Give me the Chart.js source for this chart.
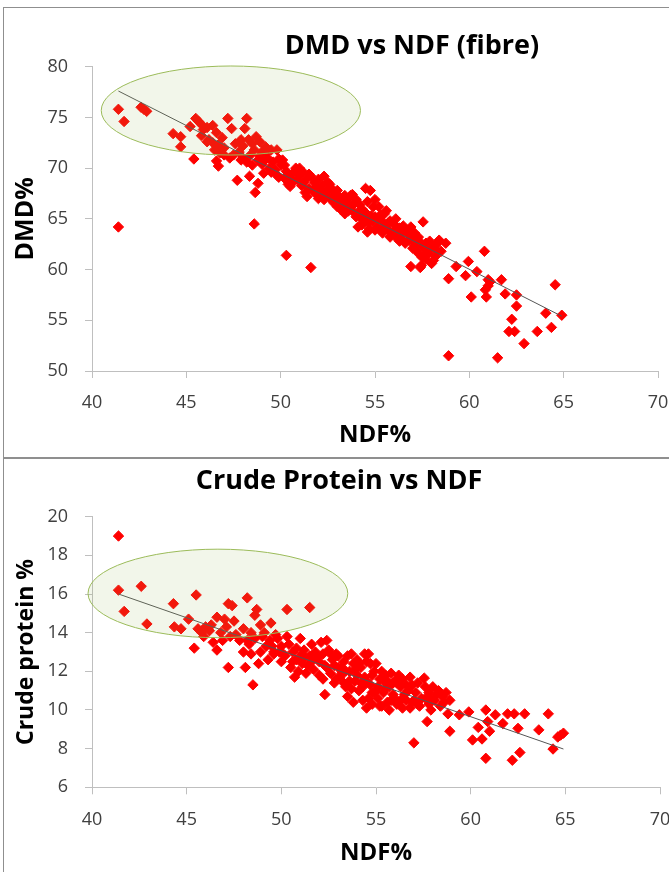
<!DOCTYPE html>
<html>
<head>
<meta charset="utf-8">
<script src="https://cdn.jsdelivr.net/npm/chart.js@4.4.1/dist/chart.umd.min.js"></script>
<style>
  html, body { margin: 0; padding: 0; background: #fff; overflow: hidden; width: 669px; height: 872px; position: relative; }
  .frame { position: absolute; border: 1.5px solid #8f8f8f; box-sizing: border-box; }
  canvas { position: absolute; left: 0; }
</style>
</head>
<body>
<div class="frame" style="left:3px;top:7px;width:720px;height:452px;"></div>
<div class="frame" style="left:3px;top:457px;width:720px;height:440px;"></div>
<canvas id="c1" width="824" height="457" style="top:0px;width:824px;height:457px;"></canvas>
<canvas id="c2" width="678" height="415" style="top:457px;width:678px;height:415px;"></canvas>
<script>
// ---------- Tick labels ----------
const ndfTicks = [40, 45, 50, 55, 60, 65, 70];
const dmdTicks = [50, 55, 60, 65, 70, 75, 80];
const cpTicks = [6, 8, 10, 12, 14, 16, 18, 20];

// ---------- Data: DMD vs NDF ----------
const dmdNdf = [
  41.4, 41.7, 41.4, 42.6, 42.75, 42.9, 44.3, 44.7, 44.7, 45.2,
  45.4, 45.5, 45.65, 45.8, 46.1, 45.9, 46.2, 46.4, 46.1, 46.7,
  46.9, 47.0, 46.6, 46.7, 46.8, 47.2, 47.4, 47.6, 47.3, 47.7,
  47.5, 48.2, 48.1, 48.3, 48.0, 48.5, 48.4, 48.7, 48.9, 48.6,
  48.35, 48.8, 48.65, 48.6, 48.5, 48.8, 49.0, 49.2, 49.3, 49.5,
  49.6, 49.1, 49.4, 49.8, 49.9, 49.7, 49.8, 50.0, 50.2, 50.4,
  50.5, 50.3, 50.6, 50.8, 51.0, 50.9, 51.2, 51.1, 51.3, 51.4,
  51.6, 51.5, 51.7, 51.8, 52.0, 52.0, 52.2, 52.3, 52.4, 52.5,
  52.6, 52.7, 52.8, 52.9, 53.0, 53.1, 53.2, 53.3, 53.4, 53.5,
  53.6, 53.7, 53.8, 53.9, 54.0, 54.1, 54.2, 54.3, 54.4, 54.5,
  54.75, 54.5, 54.6, 54.7, 54.8, 54.9, 55.0, 55.1, 55.2, 55.3,
  55.4, 55.5, 55.6, 55.7, 55.8, 55.9, 56.0, 56.1, 56.2, 56.3,
  56.4, 56.5, 56.6, 56.8, 56.9, 56.9, 57.0, 57.1, 57.2, 57.3,
  57.4, 57.45, 57.5, 57.55, 57.6, 57.7, 57.85, 58.0, 58.1, 58.2,
  58.3, 58.4, 58.5, 58.75, 58.9, 58.9, 59.3, 59.8, 59.95, 60.1,
  60.4, 60.8, 60.9, 61.0, 60.85, 61.1, 61.0, 61.5, 61.7, 61.9,
  62.1, 62.25, 62.4, 62.5, 62.5, 62.9, 63.6, 64.05, 64.35, 64.55,
  64.9, 50.3, 51.6,
  49.0, 49.2, 49.5, 49.9, 50.1, 50.4, 50.7, 51.0, 51.3, 51.9,
  52.1, 52.3, 52.6, 52.9, 53.0, 53.2, 53.4, 53.6, 53.8, 54.0,
  54.2, 54.3, 54.6, 54.7, 54.9, 55.0, 55.2, 55.3, 55.5, 55.6,
  55.8, 56.0, 56.1, 56.3, 56.5, 56.7, 56.9, 57.1, 57.3, 57.5,
  57.7, 57.9, 58.2, 58.0, 47.8, 48.2, 48.0, 47.9, 46.4, 45.8,
  46.5,
  50.2, 50.5, 50.9, 51.2, 51.5, 51.9, 52.2, 52.5, 52.8, 53.1,
  53.3, 53.5, 53.9, 54.1, 54.4, 54.6, 55.0, 55.4, 55.7, 56.2,
  56.6, 57.0, 57.3, 57.7, 58.3, 49.3, 48.9, 47.9, 47.0, 46.6
];
const dmdValues = [
  75.8, 74.6, 64.2, 76.0, 75.8, 75.6, 73.4, 73.1, 72.1, 74.1,
  70.9, 74.9, 74.6, 74.3, 74.0, 73.8, 72.8, 72.5, 72.6, 72.3,
  73.0, 72.0, 70.7, 70.2, 71.5, 74.9, 73.9, 72.4, 71.0, 68.8,
  71.3, 74.9, 73.9, 72.8, 72.2, 72.4, 71.3, 73.1, 72.6, 71.8,
  69.2, 68.5, 67.6, 64.5, 70.3, 70.8, 71.6, 72.1, 71.0, 71.8,
  70.6, 69.5, 70.0, 71.8, 70.9, 69.8, 69.3, 70.3, 69.0, 68.4,
  68.2, 69.7, 69.4, 70.0, 70.0, 68.9, 69.6, 68.3, 68.8, 67.2,
  69.2, 68.0, 67.8, 68.6, 67.0, 68.9, 68.3, 69.2, 67.6, 68.6,
  67.1, 68.0, 66.6, 67.6, 66.2, 67.2, 66.9, 65.9, 65.5, 66.6,
  67.0, 67.3, 66.3, 65.6, 66.9, 64.2, 65.2, 66.0, 64.7, 68.0,
  67.8, 65.6, 63.7, 64.6, 65.3, 66.2, 66.9, 64.2, 65.0, 63.9,
  64.7, 65.5, 64.2, 63.9, 64.8, 63.5, 64.5, 63.2, 64.0, 62.8,
  63.6, 64.3, 62.6, 62.9, 64.2, 60.3, 63.3, 62.4, 61.9, 62.9,
  60.2, 60.4, 62.3, 64.7, 61.5, 62.6, 61.6, 62.2, 60.9, 61.3,
  62.6, 62.9, 61.8, 62.6, 59.1, 51.5, 60.3, 59.4, 60.8, 57.3,
  59.8, 61.8, 57.3, 58.4, 58.0, 58.8, 59.0, 51.3, 59.0, 57.6,
  53.9, 55.1, 53.9, 56.4, 57.5, 52.7, 53.9, 55.7, 54.3, 58.5,
  55.5, 61.4, 60.2,
  70.4, 70.9, 69.6, 69.1, 70.8, 69.2, 68.7, 69.3, 67.6, 67.4,
  67.9, 66.9, 68.4, 67.0, 67.8, 65.9, 67.3, 65.8, 67.4, 65.2,
  66.4, 64.4, 66.7, 64.0, 64.8, 63.9, 66.2, 65.4, 64.0, 65.8,
  63.2, 63.8, 65.0, 64.1, 62.9, 63.6, 63.0, 63.6, 61.6, 61.2,
  61.0, 62.8, 62.4, 60.6, 71.6, 70.6, 71.0, 72.8, 74.2, 73.2,
  71.8,
  70.3, 69.0, 69.6, 68.6, 69.4, 68.2, 67.4, 67.9, 67.3, 66.6,
  66.4, 65.9, 66.5, 65.6, 65.4, 64.9, 65.2, 63.6, 64.6, 63.5,
  64.0, 62.1, 63.2, 62.0, 61.8, 71.6, 71.2, 70.8, 71.3, 73.5
];
const dmdTrendNdf = [41.4, 64.9];
const dmdTrendValues = [77.6, 55.4];

// ---------- Data: Crude protein vs NDF ----------
const cpNdf = [
  41.4, 41.4, 41.7, 42.6, 42.9, 44.3, 44.35, 44.7, 45.1, 45.5,
  45.4, 45.6, 45.8, 46.0, 46.2, 45.9, 46.4, 46.6, 46.6, 47.0,
  46.8, 47.1, 47.2, 47.4, 47.2, 47.6, 47.8, 48.0, 48.2, 48.1,
  48.3, 48.4, 48.5, 48.6, 48.7, 48.6, 48.8, 48.9, 49.0, 49.1,
  49.2, 49.45, 49.4, 49.6, 49.8, 50.0, 50.2, 50.3, 50.4, 50.5,
  50.6, 50.7, 50.8, 51.0, 51.1, 51.2, 51.3, 51.5, 51.5, 51.6,
  51.7, 51.8, 52.0, 52.1, 52.2, 52.3, 52.4, 52.5, 52.6, 52.7,
  52.8, 52.9, 53.0, 53.1, 53.3, 53.4, 53.5, 53.6, 53.7, 53.8,
  53.9, 54.0, 54.1, 54.2, 54.3, 54.4, 54.5, 54.6, 54.7, 54.8,
  54.9, 55.0, 55.1, 55.2, 55.3, 55.4, 55.5, 55.6, 55.7, 55.9,
  56.0, 56.1, 56.3, 56.4, 56.5, 56.7, 56.8, 56.9, 57.0, 57.1,
  57.3, 57.55, 57.6, 57.7, 57.8, 57.9, 58.1, 58.3, 58.4, 58.6,
  58.8, 58.9, 58.7, 59.4, 59.9, 60.1, 60.4, 60.6, 60.8, 60.8,
  60.9, 61.0, 61.3, 61.7, 61.95, 62.3, 62.2, 62.6, 62.5, 62.85,
  63.6, 64.1, 64.35, 64.6, 64.9, 64.75,
  49.3, 49.7, 50.1, 50.9, 51.4, 52.0, 52.4, 53.2, 53.8, 54.2,
  54.5, 54.8, 55.3, 55.8, 56.2, 56.6, 57.2, 57.4, 58.0, 58.5,
  46.9, 47.5, 48.0, 48.9, 52.2, 52.8, 53.3, 53.5, 54.0, 54.4,
  54.6, 55.0, 55.4, 55.9, 56.0, 56.4, 57.0, 57.8, 50.6, 51.2,
  49.5, 48.4, 53.7, 55.7,
  49.9, 50.3, 50.8, 51.1, 51.6, 51.9, 52.3, 52.6, 52.9, 53.0,
  53.4, 53.6, 53.9, 54.1, 54.3, 54.5, 54.7, 54.9, 55.1, 55.2,
  55.5, 55.6, 55.8, 56.1, 56.3, 56.6, 56.9, 57.2, 57.6, 58.2,
  48.2, 47.3, 46.3, 49.6, 50.0, 58.9, 57.9, 56.8, 54.8, 53.2
];
const cpValues = [
  19.0, 16.2, 15.1, 16.4, 14.45, 15.5, 14.3, 14.2, 14.7, 15.95,
  13.2, 14.2, 14.0, 14.3, 14.1, 13.8, 13.5, 13.1, 14.8, 14.7,
  14.0, 14.3, 15.5, 15.4, 12.2, 13.9, 13.6, 14.2, 15.8, 12.2,
  13.4, 14.0, 11.3, 14.9, 15.2, 13.7, 12.4, 13.0, 13.8, 14.0,
  13.3, 14.5, 13.6, 13.0, 13.7, 13.3, 12.8, 15.2, 13.4, 12.2,
  13.0, 11.7, 12.6, 13.7, 12.4, 13.1, 11.9, 15.3, 12.8, 13.4,
  12.1, 13.0, 12.5, 13.5, 11.6, 10.8, 12.2, 13.1, 11.9, 12.6,
  11.4, 12.9, 12.2, 11.7, 12.5, 11.2, 10.7, 12.0, 12.9, 10.4,
  11.5, 12.6, 11.0, 12.2, 10.5, 11.7, 10.1, 12.9, 11.3, 10.3,
  12.0, 11.0, 10.6, 11.6, 12.0, 10.9, 11.8, 10.4, 11.2, 10.8,
  11.5, 10.3, 11.2, 10.1, 10.8, 11.0, 11.7, 10.4, 8.3, 10.9,
  10.2, 11.65, 10.6, 9.4, 10.9, 10.0, 10.5, 11.0, 10.2, 10.4,
  9.8, 8.9, 10.9, 9.75, 9.9, 8.45, 9.1, 8.5, 7.5, 10.0,
  9.4, 8.9, 9.75, 9.3, 9.8, 9.8, 7.4, 7.8, 9.05, 9.8,
  8.97, 9.8, 7.98, 8.6, 8.8, 8.7,
  12.6, 13.9, 12.9, 12.0, 12.3, 11.8, 13.6, 11.9, 12.4, 11.4,
  12.5, 11.8, 10.2, 11.9, 11.8, 10.5, 11.4, 10.6, 11.2, 10.7,
  13.6, 14.6, 13.0, 14.4, 12.9, 12.3, 11.4, 12.8, 11.8, 12.9,
  10.6, 12.4, 11.5, 11.4, 10.6, 11.6, 10.5, 10.3, 12.5, 12.7,
  13.3, 12.9, 11.1, 10.0,
  13.0, 13.8, 13.2, 12.9, 12.5, 12.7, 12.3, 12.9, 11.6, 12.8,
  12.0, 11.5, 12.1, 12.4, 11.2, 11.5, 12.4, 10.9, 11.2, 10.2,
  11.1, 11.5, 10.5, 11.4, 10.5, 11.3, 11.3, 10.3, 11.2, 10.8,
  13.6, 13.8, 14.4, 12.9, 12.5, 10.5, 10.6, 10.1, 10.9, 12.2
];
const cpTrendNdf = [41.4, 64.9];
const cpTrendValues = [16.0, 7.98];

// Highlight ellipses (centre and radii in data units)
const dmdEllipse = { cx: 47.36, cy: 75.68, rx: 6.87, ry: 4.39 };
const cpEllipse = { cx: 46.65, cy: 16.03, rx: 6.86, ry: 2.29 };

// ---------- Rendering ----------
const toPoints = (xs, ys) => xs.map((x, i) => ({ x: x, y: ys[i] }));

const ellipsePlugin = {
  id: 'highlightEllipse',
  afterDatasetsDraw(chart, args, opts) {
    if (!opts || opts.cx === undefined) return;
    const { ctx } = chart;
    const xs = chart.scales.x, ys = chart.scales.y;
    const cx = xs.getPixelForValue(opts.cx);
    const cy = ys.getPixelForValue(opts.cy);
    const rx = Math.abs(xs.getPixelForValue(opts.cx + opts.rx) - cx);
    const ry = Math.abs(ys.getPixelForValue(opts.cy + opts.ry) - cy);
    ctx.save();
    ctx.beginPath();
    ctx.ellipse(cx, cy, rx, ry, 0, 0, Math.PI * 2);
    ctx.fillStyle = 'rgba(155,187,89,0.13)';
    ctx.fill();
    ctx.lineWidth = 1;
    ctx.strokeStyle = '#9bbb59';
    ctx.stroke();
    ctx.restore();
  }
};

const FONT = 'Open Sans';

function makeChart(id, cfg) {
  const ticksFrom = arr => (scale) => { scale.ticks = arr.map(v => ({ value: v })); };
  return new Chart(document.getElementById(id), {
    type: 'scatter',
    data: {
      datasets: [
        {
          data: toPoints(cfg.trendX, cfg.trendY),
          showLine: true,
          borderColor: '#555555',
          borderWidth: 1,
          pointRadius: 0,
          fill: false
        },
        {
          data: toPoints(cfg.xs, cfg.ys),
          pointStyle: 'rectRot',
          pointRadius: 5.2,
          pointBorderWidth: 1,
          backgroundColor: '#ff0000',
          borderColor: '#ff0000'
        }
      ]
    },
    options: {
      responsive: false,
      animation: false,
      devicePixelRatio: 1,
      layout: { padding: 0 },
      plugins: {
        legend: { display: false },
        tooltip: { enabled: false },
        title: {
          display: true,
          text: cfg.title,
          color: '#000000',
          font: { family: FONT, size: 27, weight: 'bold' },
          padding: cfg.titlePad
        },
        highlightEllipse: cfg.ellipse
      },
      scales: {
        x: {
          type: 'linear',
          min: 40, max: 70,
          afterBuildTicks: ticksFrom(ndfTicks),
          afterFit: (s) => { s.height = cfg.xAxisHeight; s.paddingRight = 0; },
          grid: { drawOnChartArea: false, drawTicks: true, tickLength: 7, color: '#bfbfbf' },
          border: { display: true, color: '#bfbfbf', width: 1 },
          ticks: { color: '#404040', font: { family: FONT, size: 18 }, padding: cfg.xTickPad, maxRotation: 0, autoSkip: false },
          title: { display: true, text: 'NDF%', color: '#000000', font: { family: FONT, size: 24, weight: 'bold' }, padding: { top: 0, bottom: cfg.xTitlePad } }
        },
        y: {
          type: 'linear',
          min: cfg.yMin, max: cfg.yMax,
          afterBuildTicks: ticksFrom(cfg.yTicks),
          afterFit: (s) => { s.width = 92; },
          grid: { drawOnChartArea: false, drawTicks: true, tickLength: 7, color: '#bfbfbf' },
          border: { display: true, color: '#bfbfbf', width: 1 },
          ticks: { color: '#404040', font: { family: FONT, size: 18 }, padding: 17, autoSkip: false },
          title: { display: true, text: cfg.yTitle, color: '#000000', font: { family: FONT, size: cfg.yTitleSize, weight: 'bold' }, padding: { top: cfg.yTitlePad, bottom: 0 } }
        },
        gap: {
          type: 'linear',
          position: 'right',
          display: true,
          afterFit: (s) => { s.width = cfg.rightGap; },
          grid: { display: false, drawOnChartArea: false, drawTicks: false },
          border: { display: false },
          ticks: { display: false }
        }
      }
    },
    plugins: [ellipsePlugin]
  });
}

makeChart('c1', {
  title: 'DMD vs NDF (fibre)',
  titlePad: { top: 30.5, bottom: 3.8 },
  rightGap: 166,
  xs: dmdNdf, ys: dmdValues,
  trendX: dmdTrendNdf, trendY: dmdTrendValues,
  yMin: 50, yMax: 80, yTicks: dmdTicks,
  yTitle: 'DMD%', yTitleSize: 25, yTitlePad: 11,
  xAxisHeight: 86, xTickPad: 14.5, xTitlePad: 7.6,
  ellipse: dmdEllipse
});

makeChart('c2', {
  title: 'Crude Protein vs NDF',
  titlePad: { top: 8.5, bottom: 18.8 },
  rightGap: 18,
  xs: cpNdf, ys: cpValues,
  trendX: cpTrendNdf, trendY: cpTrendValues,
  yMin: 6, yMax: 20, yTicks: cpTicks,
  yTitle: 'Crude protein %', yTitleSize: 23, yTitlePad: 12.7,
  xAxisHeight: 84.7, xTickPad: 15, xTitlePad: 4.6,
  ellipse: cpEllipse
});
</script>
</body>
</html>
